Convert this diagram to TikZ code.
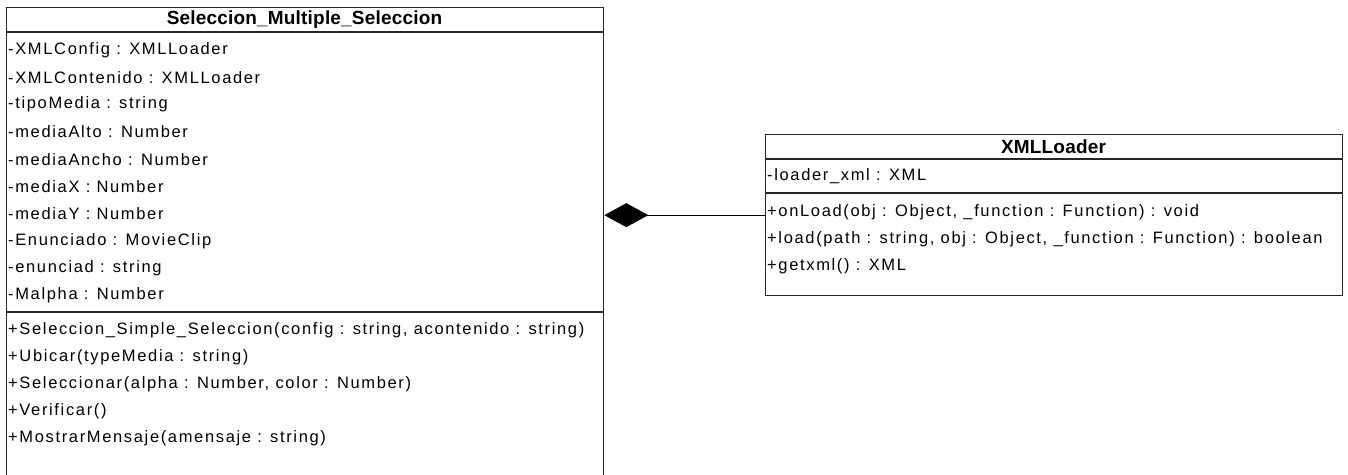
\documentclass[tikz,border=0pt]{standalone}
\usepackage{fontspec}
\setmainfont{Liberation Sans}
\newfontfamily\umlfont[LetterSpace=10]{Liberation Sans}
\newfontfamily\umltitlefont[LetterSpace=1]{Liberation Sans}
\usetikzlibrary{arrows.meta}
\begin{document}
\begin{tikzpicture}[x=1pt,y=-1pt,
  classbox/.style={draw=black!85, line width=1.3pt, anchor=north west, inner sep=0pt},
  sepline/.style={draw=black!85, line width=1.3pt},
  member/.style={anchor=west, inner sep=0pt, font=\umlfont\fontsize{16.5}{19}\selectfont},
  classname/.style={inner sep=0pt, font=\umltitlefont\fontsize{19}{22}\selectfont\bfseries},
  composition/.style={draw=black, line width=1.2pt, {Diamond[length=44pt,width=24pt,fill=black]}-}]
\useasboundingbox (0,0) rectangle (1348,474);

% Class Seleccion_Multiple_Seleccion
\node[classbox, minimum width=597pt, minimum height=469pt] (sel) at (6,7) {};
\draw[sepline] (6,32) -- (603,32);
\draw[sepline] (6,312) -- (603,312);
\node[classname] (seltitle) at (304.5,20) {Seleccion\_Multiple\_Seleccion};
\node[member] (a1) at (8,50) {-XMLConfig : XMLLoader};
\node[member] (a2) at (8,77.3) {-XMLContenido : XMLLoader};
\node[member] (a3) at (8,104.6) {-tipoMedia : string};
\node[member] (a4) at (8,131.9) {-mediaAlto : Number};
\node[member] (a5) at (8,159.2) {-mediaAncho : Number};
\node[member] (a6) at (8,186.5) {-mediaX : Number};
\node[member] (a7) at (8,213.8) {-mediaY : Number};
\node[member] (a8) at (8,241.1) {-Enunciado : MovieClip};
\node[member] (a9) at (8,268.4) {-enunciad : string};
\node[member] (a10) at (8,295.7) {-Malpha : Number};
\node[member] (m1) at (8,330) {+Seleccion\_Simple\_Seleccion(config : string, acontenido : string)};
\node[member] (m2) at (8,357) {+Ubicar(typeMedia : string)};
\node[member] (m3) at (8,384) {+Seleccionar(alpha : Number, color : Number)};
\node[member] (m4) at (8,411) {+Verificar()};
\node[member] (m5) at (8,438) {+MostrarMensaje(amensaje : string)};

% Class XMLLoader
\node[classbox, minimum width=577pt, minimum height=161pt] (xml) at (765,134) {};
\draw[sepline] (765,159) -- (1342,159);
\draw[sepline] (765,193) -- (1342,193);
\node[classname] (xmltitle) at (1053.5,146.5) {XMLLoader};
\node[member] (b1) at (767,176) {-loader\_xml : XML};
\node[member] (c1) at (767,212) {+onLoad(obj : Object, \_function : Function) : void};
\node[member] (c2) at (767,239) {+load(path : string, obj : Object, \_function : Function) : boolean};
\node[member] (c3) at (767,266) {+getxml() : XML};

% Composition: Seleccion_Multiple_Seleccion owns XMLLoader
\coordinate (own) at (sel.east |- xml.west);
\draw[composition] (own) -- (xml.west);
\end{tikzpicture}
\end{document}
